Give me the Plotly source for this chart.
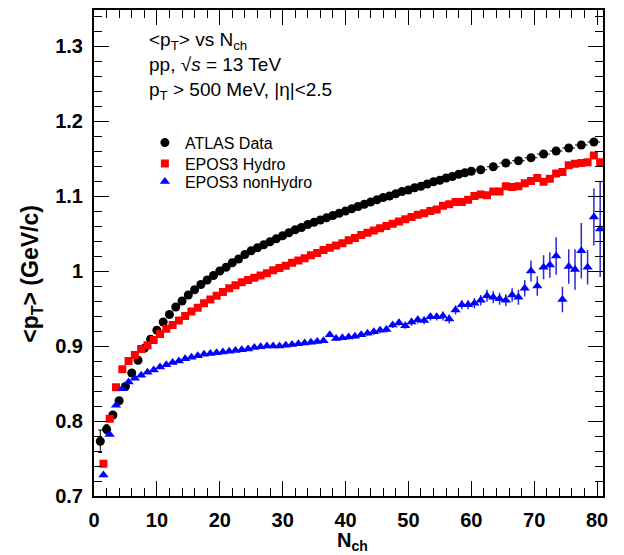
import plotly.graph_objects as go

# ATLAS data: unit-width N_ch bins up to 60, then 2-wide bins
nch_atlas = [1, 2, 3, 4, 5, 6, 7, 8, 9, 10,
             11, 12, 13, 14, 15, 16, 17, 18, 19, 20,
             21, 22, 23, 24, 25, 26, 27, 28, 29, 30,
             31, 32, 33, 34, 35, 36, 37, 38, 39, 40,
             41, 42, 43, 44, 45, 46, 47, 48, 49, 50,
             51, 52, 53, 54, 55, 56, 57, 58, 59, 60,
             61.5, 63.5, 65.5, 67.5, 69.5, 71.5, 73.5, 75.5, 77.5, 79.5]
pt_atlas = [0.773, 0.789, 0.808, 0.827, 0.846, 0.864, 0.881, 0.897, 0.909, 0.921,
            0.932, 0.942, 0.952, 0.960, 0.968, 0.975, 0.982, 0.988, 0.994, 1.000,
            1.005, 1.011, 1.016, 1.022, 1.027, 1.031, 1.035, 1.039, 1.043, 1.047,
            1.051, 1.055, 1.058, 1.062, 1.065, 1.068, 1.071, 1.074, 1.077, 1.080,
            1.083, 1.086, 1.089, 1.092, 1.095, 1.098, 1.100, 1.103, 1.106, 1.108,
            1.111, 1.113, 1.116, 1.119, 1.121, 1.124, 1.126, 1.129, 1.131, 1.133,
            1.135, 1.139, 1.144, 1.147, 1.151, 1.156, 1.160, 1.164, 1.168, 1.172]
err_atlas = [0.015, 0.006, 0.004, 0.003, 0.003, 0.002, 0.002, 0.002, 0.002, 0.002,
             0.002, 0.002, 0.002, 0.002, 0.002, 0.002, 0.002, 0.002, 0.002, 0.002,
             0.002, 0.002, 0.002, 0.002, 0.002, 0.002, 0.002, 0.002, 0.002, 0.002,
             0.002, 0.002, 0.002, 0.002, 0.002, 0.002, 0.002, 0.002, 0.002, 0.002,
             0.002, 0.002, 0.002, 0.002, 0.002, 0.002, 0.002, 0.002, 0.002, 0.002,
             0.002, 0.002, 0.002, 0.002, 0.002, 0.002, 0.002, 0.002, 0.002, 0.002,
             0.003, 0.003, 0.003, 0.003, 0.003, 0.004, 0.004, 0.004, 0.004, 0.004]
halfwidth_atlas = [0.5] * 60 + [1.0] * 10

# EPOS3 predictions at bin centres
nch_epos = [1.5, 2.5, 3.5, 4.5, 5.5, 6.5, 7.5, 8.5, 9.5, 10.5,
            11.5, 12.5, 13.5, 14.5, 15.5, 16.5, 17.5, 18.5, 19.5, 20.5,
            21.5, 22.5, 23.5, 24.5, 25.5, 26.5, 27.5, 28.5, 29.5, 30.5,
            31.5, 32.5, 33.5, 34.5, 35.5, 36.5, 37.5, 38.5, 39.5, 40.5,
            41.5, 42.5, 43.5, 44.5, 45.5, 46.5, 47.5, 48.5, 49.5, 50.5,
            51.5, 52.5, 53.5, 54.5, 55.5, 56.5, 57.5, 58.5, 59.5, 60.5,
            61.5, 62.5, 63.5, 64.5, 65.5, 66.5, 67.5, 68.5, 69.5, 70.5,
            71.5, 72.5, 73.5, 74.5, 75.5, 76.5, 77.5, 78.5, 79.5, 80.5]
pt_hydro = [0.743, 0.803, 0.845, 0.869, 0.880, 0.888, 0.896, 0.901, 0.908, 0.916,
            0.923, 0.928, 0.934, 0.940, 0.946, 0.951, 0.957, 0.962, 0.967, 0.972,
            0.977, 0.981, 0.985, 0.988, 0.991, 0.994, 0.997, 1.001, 1.004, 1.007,
            1.011, 1.014, 1.017, 1.021, 1.024, 1.028, 1.031, 1.034, 1.037, 1.041,
            1.044, 1.048, 1.051, 1.054, 1.057, 1.060, 1.063, 1.066, 1.069, 1.072,
            1.075, 1.077, 1.080, 1.082, 1.087, 1.089, 1.092, 1.092, 1.095, 1.100,
            1.102, 1.101, 1.106, 1.106, 1.113, 1.112, 1.113, 1.117, 1.120, 1.124,
            1.119, 1.123, 1.130, 1.132, 1.141, 1.143, 1.144, 1.145, 1.154, 1.145]
pt_nonhydro = [0.728, 0.782, 0.821, 0.843, 0.852, 0.857, 0.861, 0.865, 0.868, 0.872,
               0.875, 0.878, 0.880, 0.883, 0.885, 0.887, 0.889, 0.890, 0.891, 0.892,
               0.893, 0.894, 0.895, 0.896, 0.898, 0.899, 0.900, 0.900, 0.900, 0.901,
               0.902, 0.903, 0.904, 0.905, 0.906, 0.907, 0.915, 0.910, 0.911, 0.912,
               0.913, 0.915, 0.917, 0.919, 0.921, 0.922, 0.928, 0.931, 0.927, 0.932,
               0.935, 0.934, 0.939, 0.939, 0.940, 0.936, 0.948, 0.955, 0.955, 0.957,
               0.961, 0.967, 0.965, 0.963, 0.961, 0.968, 0.965, 0.977, 1.000, 0.980,
               1.005, 1.008, 1.020, 0.962, 1.006, 1.002, 1.027, 1.005, 1.072, 1.056]
err_nonhydro = [0.003, 0.002, 0.002, 0.002, 0.002, 0.002, 0.002, 0.002, 0.002, 0.002,
                0.002, 0.002, 0.002, 0.002, 0.002, 0.002, 0.002, 0.002, 0.002, 0.002,
                0.002, 0.002, 0.002, 0.002, 0.002, 0.002, 0.002, 0.002, 0.002, 0.002,
                0.003, 0.003, 0.003, 0.003, 0.003, 0.003, 0.003, 0.003, 0.003, 0.003,
                0.003, 0.003, 0.003, 0.004, 0.004, 0.004, 0.004, 0.004, 0.004, 0.005,
                0.005, 0.005, 0.005, 0.005, 0.006, 0.006, 0.006, 0.006, 0.006, 0.007,
                0.007, 0.008, 0.008, 0.008, 0.008, 0.009, 0.010, 0.011, 0.014, 0.013,
                0.016, 0.017, 0.025, 0.017, 0.023, 0.027, 0.037, 0.023, 0.038, 0.064]

FONT = "Liberation Sans"

fig = go.Figure()

fig.add_trace(go.Scatter(
    x=nch_atlas, y=pt_atlas, mode="markers", name="ATLAS Data", legend="legend",
    marker=dict(symbol="circle", size=9, color="black"),
    error_y=dict(type="data", array=err_atlas, color="black", thickness=1, width=2),
    error_x=dict(type="data", array=halfwidth_atlas, color="black", thickness=1, width=0),
))
fig.add_trace(go.Scatter(
    x=nch_epos, y=pt_hydro, mode="markers", name="EPOS3 Hydro", legend="legend2",
    marker=dict(symbol="square", size=8, color="#ff0000"),
))
fig.add_trace(go.Scatter(
    x=nch_epos, y=pt_nonhydro, mode="markers", name="EPOS3 nonHydro", legend="legend3",
    marker=dict(symbol="triangle-up", size=9, color="#0000ff"),
    error_y=dict(type="data", array=err_nonhydro, color="#2a2ad0", thickness=1.5, width=0),
))

axis_common = dict(
    showline=True, linewidth=2, linecolor="black", mirror="ticks",
    ticks="inside", ticklen=15, tickwidth=1, tickcolor="black",
    showgrid=False, zeroline=False,
    tickfont=dict(family=FONT, size=20, color="black", weight="bold"),
    ticklabelstandoff=5,
)

fig.update_xaxes(range=[0, 80.95], tick0=0, dtick=10,
                 minor=dict(dtick=2, ticklen=8, ticks="inside", tickcolor="black", tickwidth=1),
                 **axis_common)
fig.update_yaxes(range=[0.7, 1.348], tick0=0.7, dtick=0.1,
                 minor=dict(dtick=0.02, ticklen=8, ticks="inside", tickcolor="black", tickwidth=1),
                 **axis_common)

annotations = [
    dict(text="N<sub>ch</sub>", x=0.507, y=-0.064, xref="paper", yref="paper",
         showarrow=False, xanchor="center", yanchor="top",
         font=dict(family=FONT, size=20, color="black", weight="bold")),
    dict(text="&lt;p<sub>T</sub>&gt; (GeV/c)", x=-0.122, y=0.457, xref="paper", yref="paper",
         showarrow=False, textangle=-90, xanchor="center", yanchor="middle",
         font=dict(family=FONT, size=23, color="black", weight="bold")),
]
header_lines = [
    ("&lt;p<sub>T</sub>&gt; vs N<sub>ch</sub>", 0.936),
    ("pp, √<i>s</i> = 13 TeV", 0.887),
    ("p<sub>T</sub> &gt; 500 MeV, |η|&lt;2.5", 0.834),
]
for txt, yy in header_lines:
    annotations.append(dict(text=txt, x=0.104, y=yy, xref="paper", yref="paper",
                            showarrow=False, xanchor="left", yanchor="middle",
                            font=dict(family=FONT, size=19, color="black")))

legend_style = dict(xanchor="left", yanchor="top", bgcolor="rgba(0,0,0,0)",
                    borderwidth=0, font=dict(family=FONT, size=16, color="black"))

fig.update_layout(
    width=624, height=555,
    margin=dict(l=94, r=21, t=8, b=59),
    paper_bgcolor="white", plot_bgcolor="white",
    font=dict(family=FONT, color="black"),
    showlegend=True,
    legend=dict(x=0.1, y=0.762, **legend_style),
    legend2=dict(x=0.1, y=0.719, **legend_style),
    legend3=dict(x=0.1, y=0.682, **legend_style),
    annotations=annotations,
)

fig.write_html("out.html")
